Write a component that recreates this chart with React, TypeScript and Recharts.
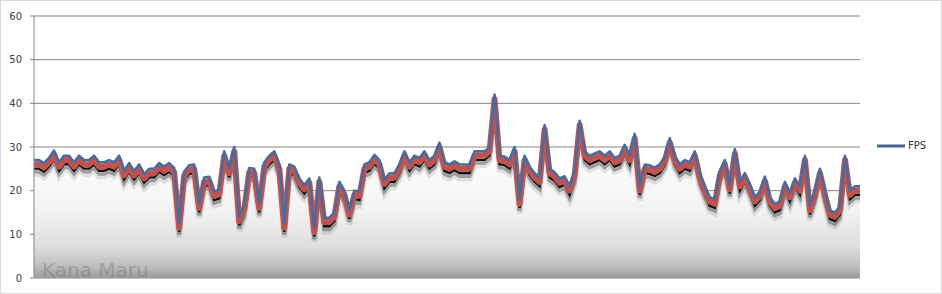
import { ComposedChart, Area, Line, XAxis, YAxis, CartesianGrid } from 'recharts';

const yTicks = [0, 10, 20, 30, 40, 50, 60];
const seriesName = 'FPS';
const watermark = 'Kana Maru';

// frame rate samples
const fps = [
  27, 27, 26.3, 27.5, 29.2, 26.5, 28, 28, 26.5, 28, 27, 27, 28, 26.5, 26.5, 27, 26.5, 28, 24.5, 26.3,
  24.5, 26, 23.8, 25, 25, 26.3, 25.5, 26.3,
  25.2, 12.5, 24.4, 25.8, 26, 17, 23, 23.2, 19.8, 20.2, 29, 25, 30, 14, 16.7, 25.2, 25, 17, 26.5, 28,
  29, 26, 12.5, 26, 25.5, 22.8, 21.3, 22.8,
  11.5, 23, 13.8, 13.8, 15, 22, 20, 15.5, 20, 19.8, 26, 26.5, 28.2, 27, 22.5, 24, 24, 26, 29, 26.5,
  28, 27.5, 29, 27, 28, 31, 26.5,
  26, 26.7, 26, 26, 26, 29, 29, 29, 30, 42, 28, 27.8, 27, 30, 18, 28, 25.5, 24, 23, 35, 25, 24.2,
  22.8, 23.3, 21, 24.5, 36, 29,
  28, 28.5, 29, 28, 29, 27.5, 28, 30.5, 28, 33, 21, 26, 25.8, 25.3, 26, 27.8, 32, 28, 26, 27, 26.5,
  29, 24, 21, 18.5, 18, 24.5,
  27, 21.3, 29.5, 22, 24, 21.5, 18.5, 19.8, 23.2, 18.5, 17, 17.5, 22, 19.5, 22.8, 21, 28, 16.5, 20,
  25, 20, 15.5, 15, 16.5, 28, 20, 21, 21,
];

const data = fps.map((v, i) => ({ frame: i, fps: v }));

const css = `
body { margin: 0; }
.fps-fade2 { transform: translateY(14px); }
.fps-fade1 { transform: translateY(11.5px); }
.fps-black { transform: translateY(8.5px); }
.fps-red { transform: translateY(4.3px); }
`;

export default function App() {
  return (
    <div
      style={{
        position: 'relative',
        width: 942,
        height: 294,
        boxSizing: 'border-box',
        border: '1px solid #d9d9d9',
        background: '#fff',
      }}
    >
      <style>{css}</style>
      <ComposedChart width={940} height={292} data={data} margin={{ top: 15, right: 81, bottom: 15, left: 0 }}>
        <defs>
          <linearGradient id="fpsFill" gradientUnits="userSpaceOnUse" x1="0" y1="15" x2="0" y2="277">
            <stop offset="0" stopColor="#ffffff" />
            <stop offset="0.55" stopColor="#fdfdfd" />
            <stop offset="0.75" stopColor="#f2f2f2" />
            <stop offset="0.88" stopColor="#dedede" />
            <stop offset="0.96" stopColor="#bbbbbb" />
            <stop offset="1" stopColor="#9a9a9a" />
          </linearGradient>
        </defs>
        <CartesianGrid vertical={false} stroke="#868686" />
        <YAxis
          domain={[0, 60]}
          ticks={yTicks}
          width={33}
          tickSize={4}
          tickMargin={8}
          axisLine={{ stroke: '#868686' }}
          tickLine={{ stroke: '#868686' }}
          tick={{ fill: '#404040', fontSize: 10, fontFamily: 'DejaVu Sans' }}
        />
        <Area dataKey="fps" type="linear" stroke="none" fill="url(#fpsFill)" fillOpacity={1} isAnimationActive={false} />
        <Line dataKey="fps" className="fps-fade2" type="linear" stroke="#000" strokeOpacity={0.1} strokeWidth={6} dot={false} isAnimationActive={false} />
        <Line dataKey="fps" className="fps-fade1" type="linear" stroke="#000" strokeOpacity={0.3} strokeWidth={4} dot={false} isAnimationActive={false} />
        <Line dataKey="fps" className="fps-black" type="linear" stroke="#111" strokeWidth={2.4} dot={false} isAnimationActive={false} />
        <Line dataKey="fps" className="fps-red" type="linear" stroke="#c0524f" strokeWidth={6} strokeLinejoin="round" dot={false} isAnimationActive={false} />
        <Line dataKey="fps" name={seriesName} type="linear" stroke="#4a6b9c" strokeWidth={2.6} strokeLinejoin="round" dot={false} isAnimationActive={false} />
        <XAxis dataKey="frame" height={0} tick={false} tickLine={false} axisLine={{ stroke: '#868686' }} />
      </ComposedChart>
      <div
        style={{
          position: 'absolute',
          left: 876,
          top: 139,
          display: 'flex',
          alignItems: 'center',
          fontFamily: 'DejaVu Sans',
          fontSize: 10,
          color: '#333',
        }}
      >
        <svg width={28} height={6}>
          <line x1={0} y1={3} x2={28} y2={3} stroke="#44638f" strokeWidth={3} />
        </svg>
        <span style={{ marginLeft: 3 }}>{seriesName}</span>
      </div>
      <div
        style={{
          position: 'absolute',
          left: 41,
          top: 257,
          fontFamily: 'DejaVu Sans',
          fontSize: 20,
          lineHeight: '24px',
          color: 'rgba(100,100,100,0.35)',
          whiteSpace: 'nowrap',
        }}
      >
        {watermark}
      </div>
    </div>
  );
}
